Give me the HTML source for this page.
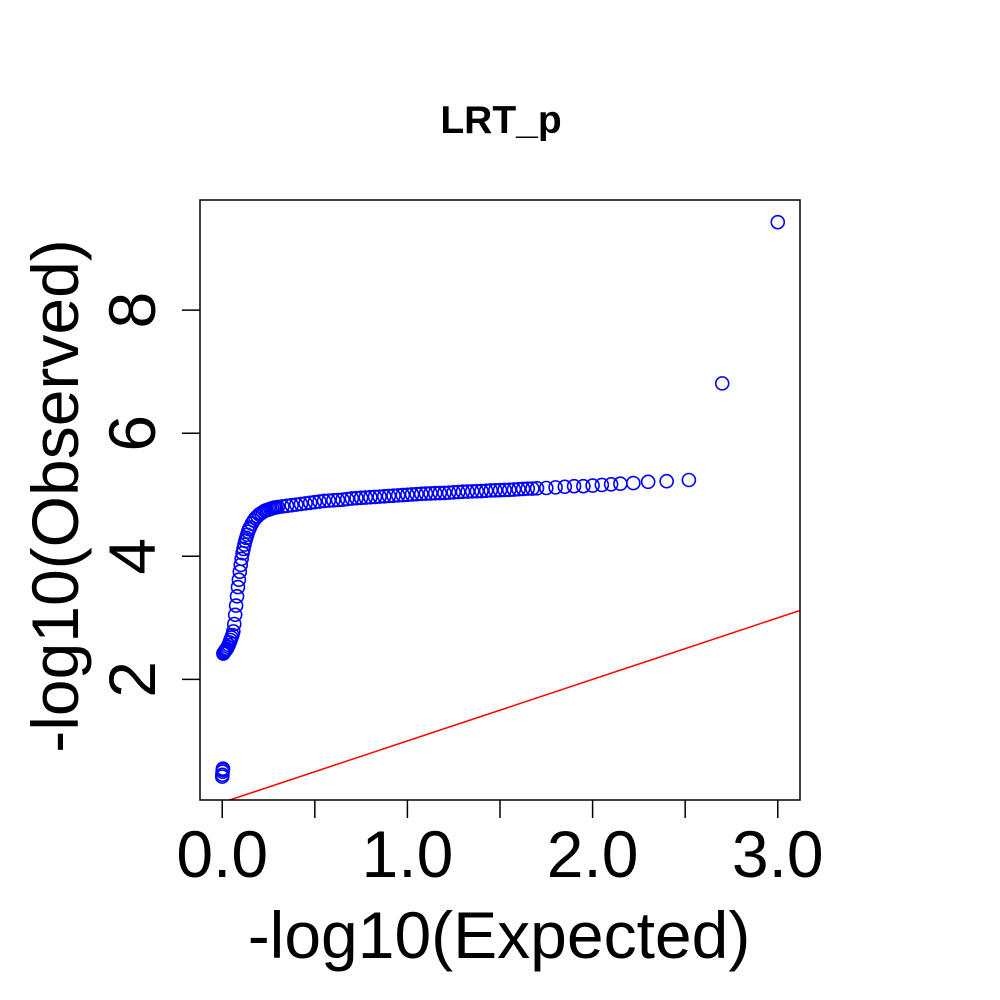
<!DOCTYPE html>
<html><head><meta charset="utf-8"><style>
html,body{margin:0;padding:0;background:#fff;}
svg{display:block;font-family:"Liberation Sans",Arial,sans-serif;}
</style></head><body>
<svg id="chart" width="1000" height="1000" viewBox="0 0 1000 1000">
<rect x="0" y="0" width="1000" height="1000" fill="#fff"/>
<text x="501" y="133" text-anchor="middle" font-size="39" font-weight="bold">LRT_p</text>
<g id="plot"></g>
<rect x="200" y="200" width="600" height="600" fill="none" stroke="#000" stroke-width="1.5"/>
<text x="499" y="958" text-anchor="middle" font-size="66">-log10(Expected)</text>
<text transform="translate(78,496) rotate(-90)" text-anchor="middle" font-size="66">-log10(Observed)</text>
</svg>
<script>
const expected=[0,0.001,0.002,0.003,0.004,0.006,0.01,0.015,0.02,0.025,0.03,0.035,0.04,0.045,0.05,0.055,0.06,0.065,0.07,0.075,0.08,0.085,0.09,0.095,0.1,0.105,0.11,0.115,0.12,0.125,0.13,0.135,0.14,0.145,0.15,0.16,0.17,0.18,0.19,0.2,0.21,0.22,0.23,0.24,0.25,0.26,0.27,0.28,0.29,0.3,0.325,0.35,0.375,0.4,0.425,0.45,0.475,0.5,0.525,0.55,0.575,0.6,0.625,0.65,0.675,0.7,0.725,0.75,0.775,0.8,0.825,0.85,0.875,0.9,0.925,0.95,0.975,1.0,1.025,1.05,1.075,1.1,1.125,1.15,1.175,1.2,1.225,1.25,1.275,1.3,1.325,1.35,1.375,1.4,1.425,1.45,1.475,1.5,1.525,1.55,1.575,1.6,1.625,1.65,1.675,1.7,1.75,1.8,1.85,1.9,1.95,2.0,2.05,2.1,2.15,2.22,2.3,2.4,2.52,2.7,3.0];
const observed=[0.42,0.45,0.5,0.53,0.55,2.42,2.44,2.46,2.48,2.5,2.53,2.56,2.6,2.64,2.68,2.72,2.78,2.9,3.05,3.2,3.35,3.5,3.62,3.75,3.86,3.96,4.05,4.12,4.19,4.25,4.3,4.35,4.4,4.44,4.47,4.53,4.58,4.62,4.65,4.68,4.7,4.72,4.74,4.75,4.76,4.77,4.78,4.79,4.795,4.8,4.81,4.82,4.83,4.84,4.85,4.86,4.87,4.88,4.89,4.9,4.905,4.91,4.915,4.92,4.93,4.94,4.945,4.95,4.955,4.96,4.965,4.97,4.975,4.98,4.985,4.99,4.995,5.0,5.005,5.01,5.015,5.02,5.022,5.025,5.028,5.03,5.035,5.04,5.045,5.05,5.052,5.055,5.058,5.06,5.065,5.07,5.072,5.075,5.078,5.08,5.085,5.09,5.095,5.1,5.1,5.105,5.11,5.12,5.13,5.14,5.14,5.15,5.16,5.17,5.18,5.19,5.21,5.22,5.24,6.81,9.43];
const xTicks=[0,0.5,1,1.5,2,2.5,3];
const xTickLabels=["0.0","","1.0","","2.0","","3.0"];
const yTicks=[2,4,6,8];
const yTickLabels=["2","4","6","8"];
const xMin=-0.12,xMax=3.12,yMin=0.04,yMax=9.79;
const X=v=>200+(v-xMin)/(xMax-xMin)*600;
const Y=v=>800-(v-yMin)/(yMax-yMin)*600;
const NS="http://www.w3.org/2000/svg";
const svg=document.getElementById('chart');
const plot=document.getElementById('plot');
function mk(t,a,p){const e=document.createElementNS(NS,t);for(const k in a)e.setAttribute(k,a[k]);(p||svg).appendChild(e);return e;}
const defs=mk('defs',{});const cp=mk('clipPath',{id:'clip'},defs);mk('rect',{x:200,y:200,width:600,height:600},cp);
const line=mk('line',{x1:X(xMin),y1:Y(xMin),x2:X(xMax),y2:Y(xMax),stroke:'#f00','stroke-width':1.5,'clip-path':'url(#clip)'},plot);


for(let i=0;i<expected.length;i++){
  const c=mk('circle',{cx:X(expected[i]),cy:Y(observed[i]),r:6.5,fill:'none',stroke:'#00f','stroke-width':1.6},plot);
  
  
}
xTicks.forEach((t,i)=>{
  const tk=mk('line',{x1:X(t),y1:800,x2:X(t),y2:818,stroke:'#000','stroke-width':1.5});
  
  
  if(xTickLabels[i]){
    const tx=mk('text',{x:X(t),y:877,'text-anchor':'middle','font-size':66});
    tx.textContent=xTickLabels[i];
    
    
  }
});
yTicks.forEach((t,i)=>{
  const tk=mk('line',{x1:182,y1:Y(t),x2:200,y2:Y(t),stroke:'#000','stroke-width':1.5});
  
  
  const tx=mk('text',{transform:`translate(155,${Y(t)}) rotate(-90)`,'text-anchor':'middle','font-size':66});
  tx.textContent=yTickLabels[i];
  
  
});
</script>
</body></html>
